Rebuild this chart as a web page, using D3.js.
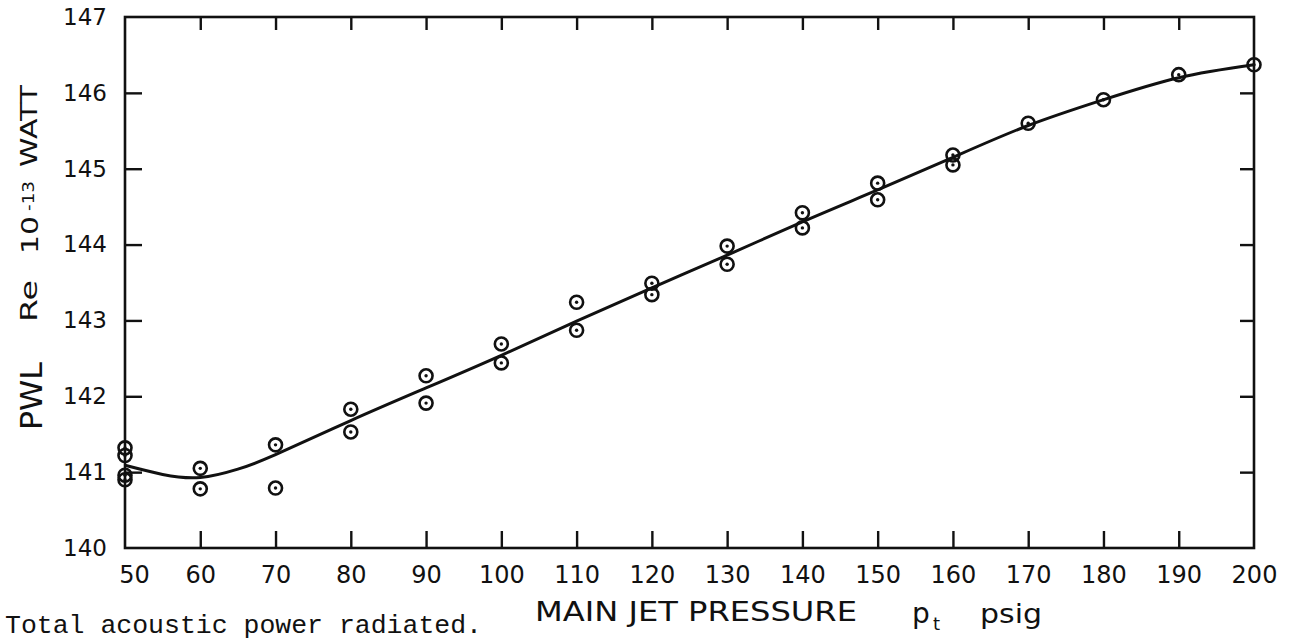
<!DOCTYPE html>
<html lang="en">
<head>
    <meta charset="utf-8">
    <title>Total acoustic power radiated</title>
    <script src="https://d3js.org/d3.v7.min.js"></script>
    <style>
        body { margin: 0; background: #fff; }
        svg { display: block; }
        .axis text { font-family: "DejaVu Sans", sans-serif; fill: #111; }
        .axis path, .axis line { stroke: #111; }
        .label { font-family: "DejaVu Sans", sans-serif; fill: #111; }
        .caption { font-family: "Liberation Mono", "Courier New", monospace; font-size: 26px; fill: #111; }
    </style>
</head>
<body>
    <svg id="chart" width="1301" height="640"></svg>
    <script>
        // measured points (main jet pressure psig, PWL dB)
        var pointP = [50, 50, 50, 50, 60, 60, 70, 70, 80, 80, 90, 90, 100, 100,
                      110, 110, 120, 120, 130, 130, 140, 140, 150, 150, 160, 160,
                      170, 180, 190, 200];
        var pointV = [141.32, 141.22, 140.96, 140.9, 141.05, 140.78, 141.36, 140.79,
                      141.83, 141.53, 142.27, 141.91, 142.69, 142.44, 143.24, 142.87,
                      143.49, 143.34, 143.98, 143.74, 144.42, 144.22, 144.81, 144.59,
                      145.18, 145.05, 145.6, 145.91, 146.24, 146.37];

        // faired curve
        var curveP = [50, 55, 60, 65, 70, 80, 90, 100, 110, 120, 130, 140, 150, 160, 170, 180, 190, 200];
        var curveV = [141.09, 140.97, 140.93, 141.04, 141.23, 141.68, 142.11, 142.54, 142.99,
                      143.43, 143.86, 144.3, 144.72, 145.15, 145.57, 145.91, 146.2, 146.37];

        var xTicks = [50, 60, 70, 80, 90, 100, 110, 120, 130, 140, 150, 160, 170, 180, 190, 200];
        var yTicks = [140, 141, 142, 143, 144, 145, 146, 147];

        var svg = d3.select("#chart");
        var plotL = 125, plotR = 1254, plotT = 17, plotB = 548;

        var x = d3.scaleLinear().domain([50, 200]).range([plotL, plotR]);
        var y = d3.scaleLinear().domain([140, 147]).range([plotB, plotT]);

        // frame
        svg.append("rect")
            .attr("x", plotL).attr("y", plotT)
            .attr("width", plotR - plotL).attr("height", plotB - plotT)
            .attr("fill", "none").attr("stroke", "#111").attr("stroke-width", 2.6);

        var inner = xTicks.filter(d => d > 50 && d < 200);
        var innerY = yTicks.filter(d => d > 140 && d < 147);

        // bottom axis with labels
        var xb = svg.append("g").attr("class", "axis")
            .attr("transform", "translate(0," + plotB + ")")
            .call(d3.axisBottom(x).tickValues(xTicks).tickFormat(d3.format("d"))
                .tickSizeInner(-17).tickSizeOuter(0).tickPadding(18));
        xb.select(".domain").remove();
        xb.selectAll("line").attr("stroke-width", 2.4)
            .attr("opacity", d => inner.includes(d) ? 1 : 0);
        xb.selectAll("text").attr("font-size", 24).attr("dx", d => d === 50 ? 9 : 0);

        // top ticks
        var xt = svg.append("g").attr("class", "axis")
            .attr("transform", "translate(0," + plotT + ")")
            .call(d3.axisTop(x).tickValues(inner).tickSizeInner(-13).tickSizeOuter(0).tickFormat(""));
        xt.select(".domain").remove();
        xt.selectAll("line").attr("stroke-width", 2.4);

        // left axis with labels
        var yl = svg.append("g").attr("class", "axis")
            .attr("transform", "translate(" + plotL + ",0)")
            .call(d3.axisLeft(y).tickValues(yTicks).tickFormat(d3.format("d"))
                .tickSizeInner(-17).tickSizeOuter(0).tickPadding(18));
        yl.select(".domain").remove();
        yl.selectAll("line").attr("stroke-width", 2.4)
            .attr("opacity", d => innerY.includes(d) ? 1 : 0);
        yl.selectAll("text").attr("font-size", 23);

        // right ticks
        var yr = svg.append("g").attr("class", "axis")
            .attr("transform", "translate(" + plotR + ",0)")
            .call(d3.axisRight(y).tickValues(innerY).tickSizeInner(-14).tickSizeOuter(0).tickFormat(""));
        yr.select(".domain").remove();
        yr.selectAll("line").attr("stroke-width", 2.4);

        // curve
        var curveData = curveP.map((p, i) => ({p: p, v: curveV[i]}));
        var line = d3.line()
            .x(d => x(d.p))
            .y(d => y(d.v))
            .curve(d3.curveNatural);
        svg.append("path")
            .datum(curveData)
            .attr("d", line)
            .attr("fill", "none")
            .attr("stroke", "#111")
            .attr("stroke-width", 3);

        // points: open circle with a dot
        var pts = pointP.map((p, i) => ({p: p, v: pointV[i]}));
        var g = svg.append("g");
        g.selectAll("circle.ring").data(pts).enter().append("circle")
            .attr("class", "ring")
            .attr("cx", d => x(d.p)).attr("cy", d => y(d.v))
            .attr("r", 6.5)
            .attr("fill", "none")
            .attr("stroke", "#111").attr("stroke-width", 2.6);
        g.selectAll("circle.dot").data(pts).enter().append("circle")
            .attr("class", "dot")
            .attr("cx", d => x(d.p)).attr("cy", d => y(d.v))
            .attr("r", 1.7)
            .attr("fill", "#111");

        // y axis title, rotated pieces
        function vtext(txt, cx, cy, size, len) {
            svg.append("text")
                .attr("class", "label")
                .attr("transform", "translate(" + cx + "," + cy + ") rotate(-90)")
                .attr("text-anchor", "middle")
                .attr("font-size", size)
                .attr("textLength", len)
                .attr("lengthAdjust", "spacingAndGlyphs")
                .text(txt);
        }
        vtext("PWL", 42, 396, 30, 68);
        vtext("Re", 37, 301, 23, 42);
        vtext("10", 38, 235, 23, 38);
        vtext("-13", 34, 196, 16, 30);
        vtext("WATT", 37, 126, 23, 82);

        // x axis title
        svg.append("text").attr("class", "label")
            .attr("x", 535).attr("y", 621)
            .attr("font-size", 26)
            .attr("textLength", 322).attr("lengthAdjust", "spacingAndGlyphs")
            .text("MAIN JET PRESSURE");
        svg.append("text").attr("class", "label")
            .attr("x", 912).attr("y", 623)
            .attr("font-size", 28)
            .text("p");
        svg.append("text").attr("class", "label")
            .attr("x", 933).attr("y", 630)
            .attr("font-size", 18)
            .text("t");
        svg.append("text").attr("class", "label")
            .attr("x", 980).attr("y", 623)
            .attr("font-size", 26)
            .attr("textLength", 62).attr("lengthAdjust", "spacingAndGlyphs")
            .text("psig");

        // caption
        svg.append("text").attr("class", "caption")
            .attr("x", 5).attr("y", 633)
            .attr("textLength", 477).attr("lengthAdjust", "spacingAndGlyphs")
            .text("Total acoustic power radiated.");
    </script>
</body>
</html>
